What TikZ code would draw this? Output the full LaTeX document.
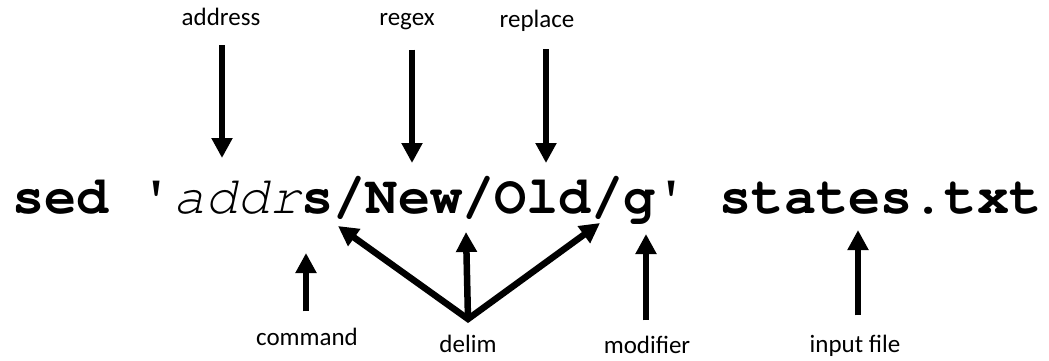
\documentclass[tikz,border=0pt]{standalone}
\usepackage[T1,TU]{fontenc}
\usepackage{fontspec}
\newfontfamily\lblfont{Carlito}
\newcommand\codefont{\fontencoding{T1}\fontfamily{pcr}\bfseries\fontsize{53.6}{53.6}\selectfont}
\usetikzlibrary{arrows.meta}

\begin{document}
\begin{tikzpicture}[x=1pt,y=-1pt,
  lbl/.style={anchor=base,inner sep=0pt,font=\lblfont\fontsize{25}{25}\selectfont},
  arr/.style={line width=6.5pt,-{Triangle[width=20pt,length=20pt]}},
  arrtwo/.style={line width=6.5pt,miter limit=20,{Triangle[width=20pt,length=20pt]}-{Triangle[width=20pt,length=20pt]}}]
%\draw[help lines](0,0)grid[step=50](1049,360);
\useasboundingbox (0,0) rectangle (1049,360);
\node[anchor=base west,inner sep=0pt,font=\codefont] (line) at (12,213)
  {sed {\mdseries\textquotesingle\itshape addr}s/New/Old/g{\mdseries\textquotesingle} states.txt};
% labels
\node[lbl] (address) at (221,25) {address};
\node[lbl] (regex) at (407,25) {regex};
\node[lbl] (replace) at (537,27) {replace};
\node[lbl] (command) at (307,345) {command};
\node[lbl] (delim) at (468,352) {delim};
\node[lbl] (modifier) at (647,353) {modifier};
\node[lbl] (input) at (855,352) {input file};
% arrow tips
\coordinate (addrT) at (222,158);
\coordinate (newT) at (412,163);
\coordinate (oldT) at (546,163);
\coordinate (sT) at (306,253);
\coordinate (slashA) at (338,226);
\coordinate (slashB) at (466,232);
\coordinate (slashC) at (600,223);
\coordinate (gT) at (646,234);
\coordinate (fileT) at (858,230);
\coordinate (delimO) at (468,319);
\draw[arr,shorten <=20pt] (address.south -| addrT) -- (addrT);
\draw[arr,shorten <=20pt] (regex.south -| newT) -- (newT);
\draw[arr,shorten <=18pt] (replace.south -| oldT) -- (oldT);
\draw[arr,shorten <=16pt] (command.north -| sT) -- (sT);
\draw[arr,shorten <=15pt] (modifier.north -| gT) -- (gT);
\draw[arr,shorten <=19pt] (input.north -| fileT) -- (fileT);
\draw[arrtwo] (slashA) -- (delimO) -- (slashC);
\draw[arr] (delimO) -- (slashB);
\end{tikzpicture}
\end{document}
